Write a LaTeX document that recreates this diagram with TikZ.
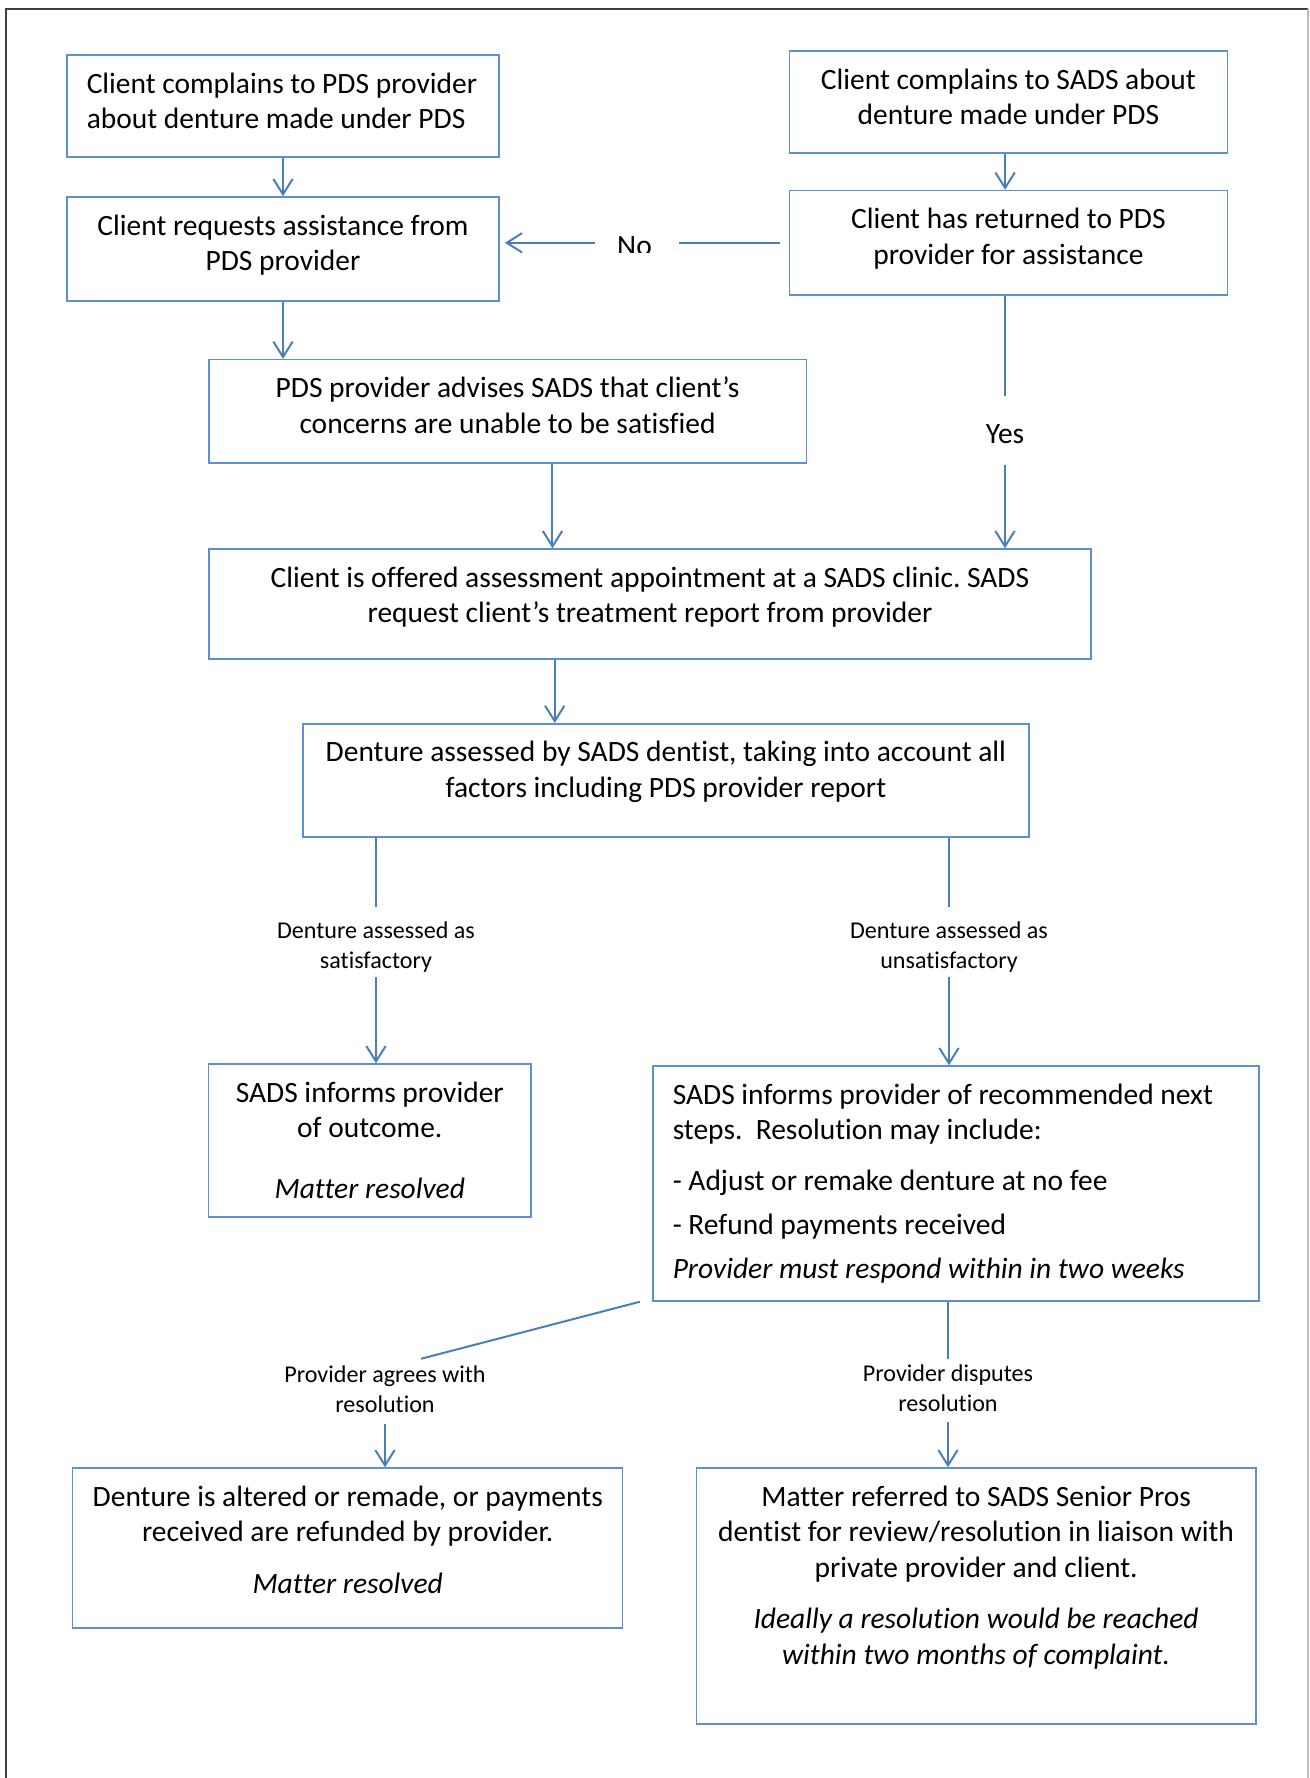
\documentclass[tikz,border=0pt]{standalone}
\usepackage{fontspec}
\setmainfont{Carlito}[Ligatures={NoCommon,NoContextual}]
\usetikzlibrary{arrows.meta}
\definecolor{connc}{HTML}{4A7EBB}
\definecolor{boxc}{HTML}{5E8FD4}
\definecolor{frmc}{HTML}{404040}
\definecolor{frmr}{HTML}{BBBBBB}
\frenchspacing
\newcommand\mfont{\fontsize{13.4pt}{16.3pt}\selectfont}
\newcommand\lfont{\fontsize{10.95pt}{13.5pt}\selectfont}
\newcommand\fstrut{\rule{0pt}{17.3pt}}
\newcommand\bxc[3]{\parbox[c][#2][t]{#1}{\centering\mfont\fstrut #3}}
\newcommand\bxl[3]{\parbox[c][#2][t]{#1}{\raggedright\leftskip=9pt\mfont\fstrut #3}}
\tikzset{
  box/.style={draw=boxc, line width=0.7pt, inner sep=0pt},
  lbl/.style={font=\lfont, align=center, inner sep=0pt},
  conn/.style={draw=connc, line width=0.9pt},
  arr/.style={conn, -{Straight Barb[length=7pt,width=8.8pt]}},
  frame/.style={draw=frmc, line width=0.9pt},
  framer/.style={draw=frmr, line width=0.7pt}
}
\begin{document}
\begin{tikzpicture}[x=0.454545pt,y=-0.454545pt]
\useasboundingbox (0,0) rectangle (1309,1778);
\draw[frame] (6,1778) -- (6,9) -- (1308,9);
\draw[framer] (1308,9) -- (1308,1778);

% boxes
\node[box] (A) at (283,106) {\bxl{196.4pt}{46.4pt}{Client complains to PDS provider\\about denture made under PDS}};
\node[box] (B) at (283,249) {\bxc{196.4pt}{47.3pt}{Client requests assistance from\\PDS provider}};
\node[box] (C) at (1008.4,102) {\bxc{199pt}{46.4pt}{Client complains to SADS about\\denture made under PDS}};
\node[box] (D) at (1008.4,242.8) {\bxc{199pt}{47.5pt}{Client has returned to PDS\\provider for assistance}};
\node[box] (E) at (507.6,411.2) {\bxc{271.7pt}{46.9pt}{PDS provider advises SADS that client’s\\concerns are unable to be satisfied}};
\node[box] (F) at (650,604) {\bxc{401.1pt}{50pt}{Client is offered assessment appointment at a SADS clinic. SADS\\request client’s treatment report from provider}};
\node[box] (G) at (665.9,780.4) {\bxc{330pt}{51.5pt}{Denture assessed by SADS dentist, taking into account all\\factors including PDS provider report}};
\node[box] (H) at (369.8,1140.5) {\bxc{146.5pt}{69.5pt}{SADS informs provider\\of outcome.\\[11.4pt]\textit{Matter resolved}}};
\node[box] (I) at (956,1183.5) {\bxl{275.5pt}{106.8pt}{SADS informs provider of recommended next\\steps.\ \ Resolution may include:\\[6.8pt]- Adjust or remake denture at no fee\\[3.6pt]- Refund payments received\\[3.6pt]\textit{Provider must respond within in two weeks}}};
\node[box] (J) at (347.7,1547.9) {\bxc{250pt}{72.6pt}{Denture is altered or remade, or payments\\received are refunded by provider.\\[7.3pt]\textit{Matter resolved}}};
\node[box] (K) at (976.1,1596) {\bxc{254.2pt}{116.4pt}{Matter referred to SADS Senior Pros\\dentist for review/resolution in liaison with\\private provider and client.\\[6.8pt]\textit{Ideally a resolution would be reached}\\\textit{within two months of complaint.}}};

% labels
\begin{scope}
  \clip (560,200) rectangle (700,252);
  \node[lbl,font=\mfont] (no) at (634.5,246) {No};
\end{scope}
\node[lbl,font=\mfont] (yes) at (1005,434) {Yes};
\node[lbl] (l1) at (376,947) {Denture assessed as\\satisfactory};
\node[lbl] (l2) at (949,947) {Denture assessed as\\unsatisfactory};
\node[lbl] (l3) at (385,1389.5) {Provider agrees with\\resolution};
\node[lbl] (l4) at (948,1388) {Provider disputes\\resolution};

% connectors
\draw[arr] (A) -- (B);
\draw[arr] (B.south) -- (B.south |- E.north);
\draw[arr] ([xshift=-1.5pt]C.south) -- ([xshift=-1.5pt]C.south |- D.north);
\draw[conn, shorten <=3.9pt, shorten >=12.1pt] (D.west) -- (D.west -| no.east);
\draw[arr, shorten <=9.7pt, shorten >=2.3pt] (D.west -| no.west) -- (D.west -| B.east);
\draw[conn, shorten >=12.6pt] (yes |- D.south) -- (yes);
\draw[arr, shorten <=9.4pt] (yes) -- (yes |- F.north);
\draw[arr] ([xshift=20.4pt]E.south) -- ([xshift=20.4pt]E.south |- F.north);
\draw[arr] ([xshift=-43.3pt]F.south) -- ([xshift=-43.3pt]F.south |- G.north);
\draw[conn, shorten >=6.5pt] (l1 |- G.south) -- (l1);
\draw[arr, shorten <=2pt] (l1) -- (l1 |- H.north);
\draw[conn, shorten >=6.5pt] (l2 |- G.south) -- (l2);
\draw[arr, shorten <=2pt] (l2) -- (l2 |- I.north);
\draw[conn] ([xshift=-5.6pt]I.south west) -- ([shift={(36,-7)}]l3.north);
\draw[arr, shorten <=5pt] (l3) -- (l3 |- J.north);
\draw[conn, shorten >=2.5pt] (l4 |- I.south) -- (l4);
\draw[arr, shorten <=4.5pt] (l4) -- (l4 |- K.north);
\end{tikzpicture}
\end{document}
